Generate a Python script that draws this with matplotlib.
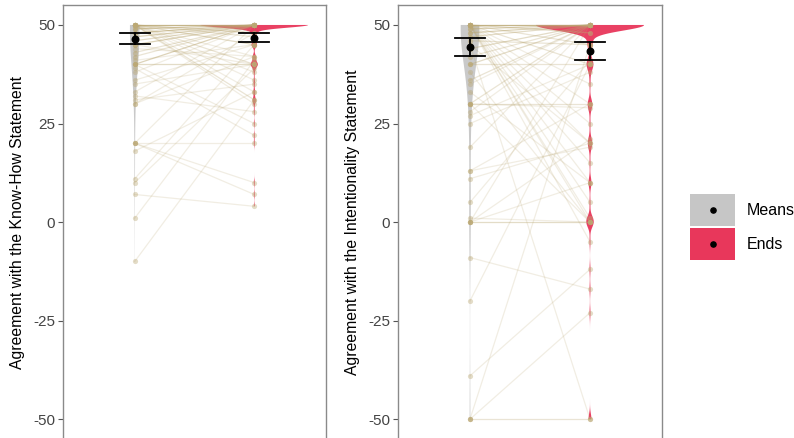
import numpy as np
import matplotlib
matplotlib.use("Agg")
import matplotlib.pyplot as plt
from matplotlib.patches import Rectangle

plt.rcParams['font.family'] = ['Liberation Sans', 'DejaVu Sans']

# paired ratings: (means rating, ends rating, number of participants)
kh_means = [50, 50, 50, 50, 50, 50, 50, 50, 50, 50, 50,
            49, 48, 47, 46, 45, 45, 44, 43, 42, 41,
            40, 40, 40,
            39, 38, 36, 35, 33, 32, 30, 30, 31,
            20, 20, 20, 20, 18, 11, 10, 7, 1, -10]
kh_ends = [50, 40, 48, 45, 47, 31, 30, 36, 38, 33, 42,
           50, 50, 50, 50, 50, 40, 42, 50, 50, 45,
           40, 50, 25,
           22, 50, 45, 40, 50, 28, 42, 48, 35,
           20, 10, 7, 50, 33, 45, 39, 4, 41, 31]
kh_counts = [85, 2, 3, 3, 2, 2, 1, 1, 1, 1, 1,
             5, 5, 4, 3, 4, 1, 1, 2, 2, 1,
             3, 4, 1,
             1, 1, 1, 1, 1, 1, 1, 1, 1,
             1, 1, 1, 1, 1, 1, 1, 1, 1, 1]

int_means = [50, 50, 50, 50, 50, 50, 50, 50, 50, 50, 50, 50, 50, 50,
             49, 48, 47, 46, 45, 45, 44, 42, 40, 40, 38, 36, 35, 33,
             30, 30, 30, 30, 28, 27, 25, 19, 13, 13, 11, 5, 1,
             0, 0, 0, 0, -9, -20, -39, -50, -50, -50]
int_ends = [50, 45, 48, 40, 35, 30, 25, 20, 15, 10, 5, 0, 1, -5,
            50, 50, 50, 45, -50, 20, 50, 50, 50, 40, 0, 50, 50, 10,
            30, 50, 29, 0, 50, 40, 38, 50, 30, 19, 20, 41, 0,
            0, 50, 21, 10, -17, 40, -12, -23, -50, 45]
int_counts = [85, 2, 3, 2, 1, 1, 1, 1, 1, 1, 1, 1, 1, 1,
              4, 4, 3, 2, 1, 1, 3, 2, 3, 2, 1, 2, 1, 1,
              2, 2, 1, 1, 1, 1, 1, 1, 1, 1, 1, 1, 1,
              3, 1, 1, 1, 1, 1, 1, 1, 2, 1]

# group means with interval limits (lower, mean, upper)
kh_summary = {'Means': (45.1, 46.5, 47.9), 'Ends': (45.8, 46.8, 47.9)}
int_summary = {'Means': (42.2, 44.5, 46.6), 'Ends': (41.1, 43.4, 45.6)}

y_ticks = [-50, -25, 0, 25, 50]
groups = ['Means', 'Ends']
fills = {'Means': '#c6c6c6', 'Ends': '#e8375b'}
tan = '#bba874'


def kde(vals, weights, bw, grid):
    vals = np.asarray(vals, float)
    w = np.asarray(weights, float)
    d = np.exp(-(grid[:, None] - vals[None, :]) ** 2 / (2 * bw ** 2))
    return (d * w).sum(axis=1) / (w.sum() * bw * np.sqrt(2 * np.pi))


def panel(ax, means, ends, counts, summary, bws, ylabel):
    data = {'Means': means, 'Ends': ends}
    dens = {}
    for i, g in enumerate(groups):
        grid = np.linspace(min(data[g]), max(data[g]), 800)
        dens[g] = (grid, kde(data[g], counts, bws[i], grid))
    top = max(d.max() for _, d in dens.values())
    for i, g in enumerate(groups):
        grid, d = dens[g]
        w = 0.45 * d / top
        xs = np.concatenate([i + 1 - w, (i + 1 + w)[::-1]])
        ys = np.concatenate([grid, grid[::-1]])
        ax.fill(xs, ys, color=fills[g], lw=0, alpha=0.95, zorder=1)

    for m, e, c in zip(means, ends, counts):
        a = min(0.85, 0.2 + 0.1 * (c - 1))
        ax.plot([1, 2], [m, e], color=tan, lw=0.9, alpha=a, zorder=2)
        ax.scatter([1, 2], [m, e], s=14, color=tan, alpha=min(0.9, 0.3 + 0.1 * c),
                   lw=0, zorder=3)

    for i, g in enumerate(groups):
        lo, mu, hi = summary[g]
        x = i + 1
        ax.plot([x, x], [lo, hi], color='black', lw=1.3, zorder=5)
        ax.plot([x - 0.125, x + 0.125], [lo, lo], color='black', lw=1.3, zorder=5)
        ax.plot([x - 0.125, x + 0.125], [hi, hi], color='black', lw=1.3, zorder=5)
        ax.scatter([x], [mu], s=22, color='black', zorder=6)

    ax.set_xlim(0.4, 2.6)
    ax.set_ylim(-55, 55)
    ax.set_xticks([])
    ax.set_yticks(y_ticks)
    ax.set_yticklabels([str(t) for t in y_ticks])
    ax.tick_params(axis='y', length=3.5, width=0.8, color='#555555',
                   labelcolor='#444444', labelsize=11, pad=2)
    for s in ax.spines.values():
        s.set_color('#8a8a8a')
        s.set_linewidth(1.0)
    ax.set_ylabel(ylabel, fontsize=11.3, labelpad=6)


fig = plt.figure(figsize=(7.94, 4.38), dpi=100)
ax1 = fig.add_axes([63 / 794, -0.002, 263 / 794, 0.99])
ax2 = fig.add_axes([398 / 794, -0.002, 264 / 794, 0.99])

panel(ax1, kh_means, kh_ends, kh_counts, kh_summary, (9.0, 0.7),
      'Agreement with the Know-How Statement')
panel(ax2, int_means, int_ends, int_counts, int_summary, (9.0, 1.4),
      'Agreement with the Intentionality Statement')

# legend
lg = fig.add_axes([690 / 794, 1 - 261 / 438, 45 / 794, 68 / 438])
lg.set_xlim(0, 1)
lg.set_ylim(0, 1)
lg.axis('off')
for j, g in enumerate(groups):
    y0 = 1 - (j + 1) * 0.5
    lg.add_patch(Rectangle((0, y0 + 0.02), 1, 0.46, color=fills[g], lw=0))
    lg.scatter([0.5], [y0 + 0.25], s=14, color='black', zorder=3)
    lg.text(1.27, y0 + 0.25, g, fontsize=11.5, va='center', ha='left',
            color='black', clip_on=False)

fig.savefig('out.png', dpi=100)
